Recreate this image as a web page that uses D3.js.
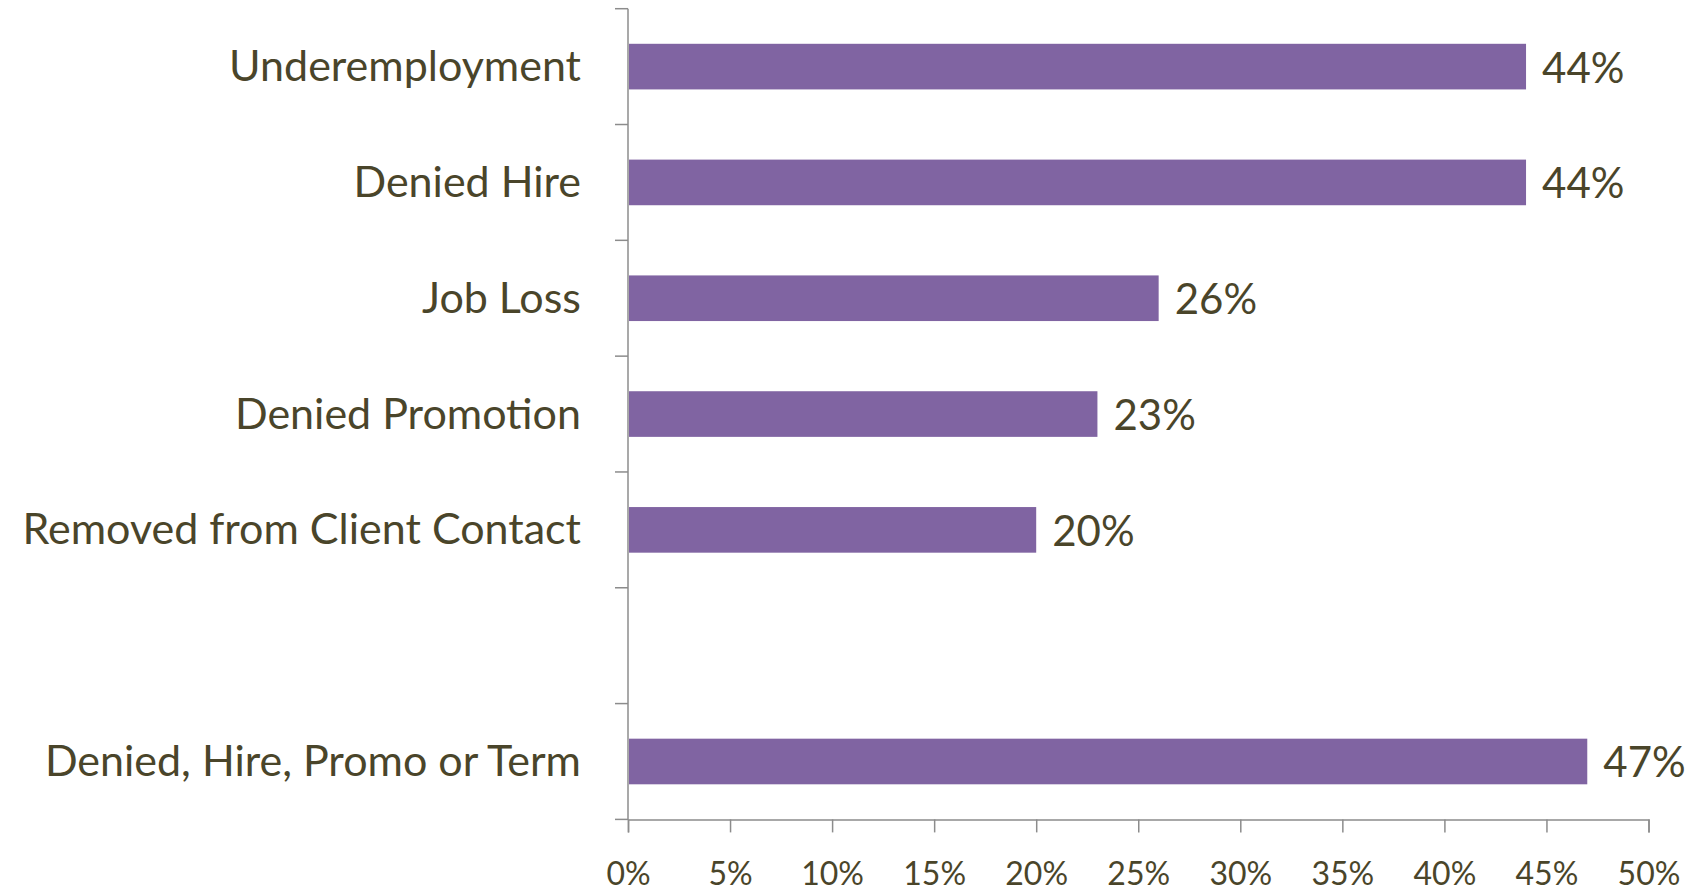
<!DOCTYPE html>
<html>
<head>
<meta charset="utf-8">
<script src="https://cdn.jsdelivr.net/npm/d3@7"></script>
<style>
  body { margin: 0; background: #fff; }
  svg { display: block; }
</style>
</head>
<body>
<div id="chart"></div>
<script>
var categories = ["Underemployment", "Denied Hire", "Job Loss", "Denied Promotion",
                  "Removed from Client Contact", "", "Denied, Hire, Promo or Term"];
var values = [44, 44, 26, 23, 20, null, 47];
var xTicks = [0, 5, 10, 15, 20, 25, 30, 35, 40, 45, 50];

var W = 1704, H = 894;
var plotLeft = 628, plotRight = 1648.5, plotTop = 8.7, plotBottom = 819.4;
var textColor = "#4a452a";
var axisColor = "#8c8c8c";
var font = "Lato, 'Open Sans', sans-serif";

var svg = d3.select("#chart")
  .append("svg")
  .attr("width", W)
  .attr("height", H);

var x = d3.scaleLinear()
  .domain([0, 50])
  .range([plotLeft, plotRight]);

// band slots match the category ticks; bar sits centred in each slot
var y = d3.scaleBand()
  .domain(categories)
  .range([plotTop, plotBottom])
  .paddingInner(0.606)
  .paddingOuter(0.303);

var data = categories.map(function(c, i) { return {cat: c, value: values[i]}; });

// x axis
var xAxis = svg.append("g")
  .attr("transform", "translate(0," + plotBottom + ")")
  .call(d3.axisBottom(x).tickValues(xTicks).tickSize(13).tickSizeOuter(13)
    .tickFormat(function(d) { return d + "%"; }));
xAxis.select(".domain").attr("stroke", axisColor).attr("stroke-width", 1.5);
xAxis.selectAll(".tick line").attr("stroke", axisColor).attr("stroke-width", 1.5);
xAxis.selectAll(".tick text")
  .attr("y", 0)
  .attr("dy", 0)
  .attr("transform", "translate(0,66)")
  .style("font-family", font)
  .style("font-size", "32px")
  .style("fill", textColor);

// y axis: line + ticks between categories
svg.append("line")
  .attr("x1", plotLeft).attr("x2", plotLeft)
  .attr("y1", plotTop).attr("y2", plotBottom)
  .attr("stroke", axisColor)
  .attr("stroke-width", 1.5);

svg.selectAll(".ytick")
  .data(d3.range(categories.length + 1))
  .enter().append("line")
  .attr("class", "ytick")
  .attr("x1", plotLeft - 13).attr("x2", plotLeft)
  .attr("y1", function(i) { return plotTop + i * y.step(); })
  .attr("y2", function(i) { return plotTop + i * y.step(); })
  .attr("stroke", axisColor)
  .attr("stroke-width", 1.5);

svg.selectAll(".ylabel")
  .data(data)
  .enter().append("text")
  .attr("class", "ylabel")
  .attr("x", plotLeft - 47)
  .attr("y", function(d) { return y(d.cat) + y.bandwidth() / 2; })
  .attr("dy", "0.34em")
  .attr("text-anchor", "end")
  .style("font-family", font)
  .style("font-size", "43px")
  .style("fill", textColor)
  .text(function(d) { return d.cat; });

var withValue = data.filter(function(d) { return d.value != null; });

svg.selectAll(".bar")
  .data(withValue)
  .enter().append("rect")
  .attr("class", "bar")
  .attr("x", x(0) + 1)
  .attr("y", function(d) { return y(d.cat); })
  .attr("width", function(d) { return x(d.value) - x(0) - 1; })
  .attr("height", y.bandwidth())
  .style("fill", "#8064a2");

svg.selectAll(".vlabel")
  .data(withValue)
  .enter().append("text")
  .attr("class", "vlabel")
  .attr("x", function(d) { return x(d.value) + 16; })
  .attr("y", function(d) { return y(d.cat) + y.bandwidth() / 2; })
  .attr("dy", "0.38em")
  .style("font-family", font)
  .style("font-size", "42px")
  .style("fill", textColor)
  .text(function(d) { return d.value + "%"; });
</script>
</body>
</html>
